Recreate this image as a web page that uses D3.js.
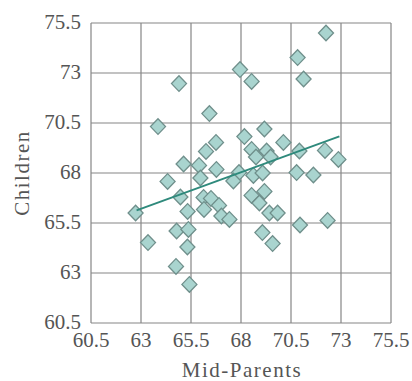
<!DOCTYPE html>
<html>
<head>
<meta charset="utf-8">
<script src="https://cdn.jsdelivr.net/npm/d3@7"></script>
<style>
  body { margin: 0; background: #fff; }
</style>
</head>
<body>
<svg id="chart" width="412" height="381" style="font-family: 'Liberation Serif', 'DejaVu Serif', serif;"></svg>
<script>
// mid-parent height vs child height
const midParents = [72.25, 70.83, 71.13, 67.95, 68.53, 64.9, 66.42, 63.85, 69.17, 68.17,
  70.12, 66.75, 66.25, 68.53, 69.28, 68.75, 69.48, 70.92, 72.2, 72.87,
  65.13, 65.9, 66.77, 67.9, 68.62, 69.08, 70.78, 71.62, 65.97, 67.62,
  64.33, 69.17, 64.97, 66.13, 66.5, 68.53, 68.92, 66.9, 66.15, 65.33,
  69.42, 69.83, 62.73, 67.02, 67.42, 72.33, 70.95, 64.78, 65.37, 69.07,
  63.35, 69.58, 65.32, 64.75, 65.42];
const children = [75.0, 73.77, 72.7, 73.17, 72.58, 72.47, 70.97, 70.32, 70.2, 69.82,
  69.53, 69.53, 69.08, 69.18, 69.1, 68.8, 68.8, 69.1, 69.13, 68.68,
  68.45, 68.38, 68.18, 68.02, 67.88, 68.0, 68.02, 67.9, 67.75, 67.6,
  67.58, 67.08, 66.8, 66.78, 66.73, 66.88, 66.5, 66.38, 66.18, 66.08,
  66.0, 66.0, 66.0, 65.85, 65.68, 65.63, 65.4, 65.1, 65.18, 65.02,
  64.52, 64.47, 64.3, 63.33, 62.43];

// fitted line end points
const fitX = [62.78, 72.92];
const fitY = [66.13, 69.83];

const ticks = [60.5, 63, 65.5, 68, 70.5, 73, 75.5];

const svg = d3.select("#chart");
const plotLeft = 91, plotRight = 391, plotTop = 23, plotBottom = 323;
const serifFont = "Liberation Serif";
const textColor = "#555";

const x = d3.scaleLinear().domain([60.5, 75.5]).range([plotLeft, plotRight]);
const y = d3.scaleLinear().domain([60.5, 75.5]).range([plotBottom, plotTop]);

const gridColor = "#858585";

// grid
svg.append("g")
  .selectAll("line")
  .data(ticks)
  .enter()
  .append("line")
  .attr("x1", (d) => x(d))
  .attr("x2", (d) => x(d))
  .attr("y1", plotTop)
  .attr("y2", plotBottom)
  .attr("stroke", gridColor)
  .attr("stroke-width", 1.2);

svg.append("g")
  .selectAll("line")
  .data(ticks)
  .enter()
  .append("line")
  .attr("x1", plotLeft)
  .attr("x2", plotRight)
  .attr("y1", (d) => y(d))
  .attr("y2", (d) => y(d))
  .attr("stroke", gridColor)
  .attr("stroke-width", 1.2);

// tick labels
svg.append("g")
  .selectAll("text")
  .data(ticks)
  .enter()
  .append("text")
  .attr("x", (d) => x(d))
  .attr("y", 347)
  .attr("text-anchor", "middle")
  .style("font-family", serifFont)
  .attr("font-size", 21)
  .attr("fill", textColor)
  .text((d) => d);

svg.append("g")
  .selectAll("text")
  .data(ticks)
  .enter()
  .append("text")
  .attr("x", 81)
  .attr("y", (d) => y(d))
  .attr("dy", "0.3em")
  .attr("text-anchor", "end")
  .style("font-family", serifFont)
  .attr("font-size", 21)
  .attr("fill", textColor)
  .text((d) => d);

// axis titles
svg.append("text")
  .attr("x", (plotLeft + plotRight) / 2 + 1)
  .attr("y", 377)
  .attr("text-anchor", "middle")
  .style("font-family", serifFont)
  .attr("font-size", 21)
  .attr("letter-spacing", 1.5)
  .attr("fill", textColor)
  .text("Mid-Parents");

svg.append("text")
  .attr("transform", `translate(29, ${(plotTop + plotBottom) / 2}) rotate(-90)`)
  .attr("text-anchor", "middle")
  .style("font-family", serifFont)
  .attr("font-size", 21)
  .attr("letter-spacing", 1.5)
  .attr("fill", textColor)
  .text("Children");

// points
const points = midParents.map((m, i) => ({ m: m, c: children[i] }));

svg.append("g")
  .selectAll("path")
  .data(points)
  .enter()
  .append("path")
  .attr("d", "M0,-7.8L7.5,0L0,7.8L-7.5,0Z")
  .attr("transform", (p) => `translate(${x(p.m)}, ${y(p.c)})`)
  .attr("fill", "#a9d4cf")
  .attr("stroke", "#6f8f8b")
  .attr("stroke-width", 1.3);

// regression line
svg.append("line")
  .attr("x1", x(fitX[0]))
  .attr("y1", y(fitY[0]))
  .attr("x2", x(fitX[1]))
  .attr("y2", y(fitY[1]))
  .attr("stroke", "#2f8a7c")
  .attr("stroke-width", 2);
</script>
</body>
</html>
